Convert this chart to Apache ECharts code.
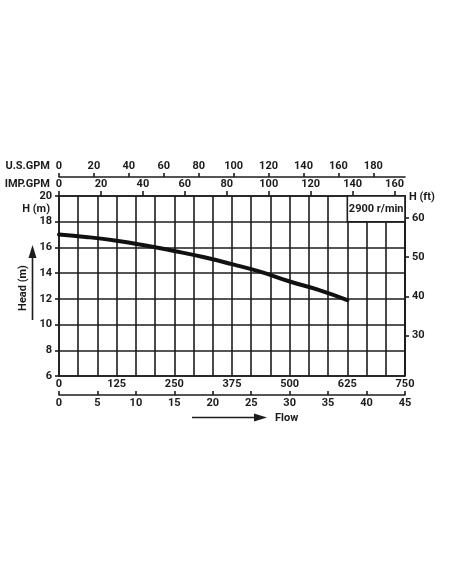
<!DOCTYPE html>
<html>
<head>
<meta charset="utf-8">
<script src="https://cdn.jsdelivr.net/npm/echarts@6/dist/echarts.min.js"></script>
<style>
html,body{margin:0;padding:0;background:#fff;}
#c{width:452px;height:584px;}
</style>
</head>
<body>
<div id="c"></div>
<script>
// ---- data ----
const flowLmin = [0, 62.5, 125, 187.5, 250, 312.5, 375, 437.5, 500, 562.5, 625];
const headM    = [17.0, 16.8, 16.52, 16.15, 15.72, 15.25, 14.7, 14.1, 13.35, 12.7, 11.9];
const lminTicks  = [0, 125, 250, 375, 500, 625, 750];
const m3hTicks   = [0, 5, 10, 15, 20, 25, 30, 35, 40, 45];
const usgpmTicks = [0, 20, 40, 60, 80, 100, 120, 140, 160, 180];
const impTicks   = [0, 20, 40, 60, 80, 100, 120, 140, 160];
const headMTicks = [6, 8, 10, 12, 14, 16, 18, 20];
const headFtTicks = [30, 40, 50, 60];
const speedLabel = '2900 r/min';
const speedBox = { flow: [625, 750], head: [18, 20] };

const FLOW_MAX = 750, H_MIN = 6, H_MAX = 20;

const FONT = 'Roboto, "DejaVu Sans Condensed", sans-serif', FS = 11;
const INK = '#1c1c1c';
const LW = 1.6;
const txt = { fontFamily: FONT, fontSize: FS, fontWeight: 'bold', color: INK };
const gfont = 'bold ' + FS + 'px ' + FONT;

const chart = echarts.init(document.getElementById('c'), null, { renderer: 'canvas' });
const line = { show: true, onZero: false, lineStyle: { color: INK, width: LW } };
const tick = (extra) => Object.assign({ show: true, length: 4, lineStyle: { color: INK, width: LW } }, extra);

chart.setOption({
  backgroundColor: '#fff',
  animation: false,
  grid: { left: 59, right: 47, top: 196, bottom: 208, show: false },
  xAxis: [
    { type: 'value', position: 'bottom', min: 0, max: FLOW_MAX, interval: FLOW_MAX / 18,
      axisLine: line, axisTick: { show: false },
      splitLine: { show: true, lineStyle: { color: INK, width: LW } },
      axisLabel: Object.assign({ customValues: lminTicks, margin: 3 }, txt) },
    { type: 'value', position: 'bottom', offset: 19, min: 0, max: 45,
      axisLine: line, axisTick: tick({ inside: true, customValues: m3hTicks }),
      splitLine: { show: false },
      axisLabel: Object.assign({ customValues: m3hTicks, margin: 3 }, txt) },
    { type: 'value', position: 'top', min: 0, max: FLOW_MAX / 4.54609,
      axisLine: line, axisTick: tick({ length: 5, customValues: impTicks }),
      splitLine: { show: false },
      axisLabel: Object.assign({ customValues: impTicks, margin: 6 }, txt) },
    { type: 'value', position: 'top', offset: 19, min: 0, max: FLOW_MAX / 3.78541,
      axisLine: line, axisTick: tick({ customValues: usgpmTicks }),
      splitLine: { show: false },
      axisLabel: Object.assign({ customValues: usgpmTicks, margin: 5 }, txt) }
  ],
  yAxis: [
    { type: 'value', position: 'left', min: H_MIN, max: H_MAX, interval: 1,
      axisLine: line,
      axisTick: tick({ customValues: headMTicks }),
      splitLine: { show: true, lineStyle: { color: INK, width: LW } },
      axisLabel: Object.assign({ customValues: headMTicks, margin: 7 }, txt) },
    { type: 'value', position: 'right', min: H_MIN / 0.3048, max: H_MAX / 0.3048,
      axisLine: line,
      axisTick: tick({ customValues: headFtTicks }),
      splitLine: { show: false },
      axisLabel: Object.assign({ customValues: headFtTicks, margin: 7 }, txt) }
  ],
  series: [{
    type: 'line', xAxisIndex: 0, yAxisIndex: 0, smooth: true, symbol: 'none',
    data: flowLmin.map((q, i) => [q, headM[i]]),
    lineStyle: { color: '#111', width: 4, cap: 'round' },
    markArea: {
      silent: true,
      itemStyle: { color: '#fff', borderColor: INK, borderWidth: LW },
      label: Object.assign({ show: true, position: 'inside', formatter: speedLabel }, txt),
      data: [[{ xAxis: speedBox.flow[0], yAxis: speedBox.head[1] }, { xAxis: speedBox.flow[1], yAxis: speedBox.head[0] }]]
    }
  }],
  graphic: [
    { type: 'text', x: 50, y: 166, style: { text: 'U.S.GPM', align: 'right', verticalAlign: 'middle', font: gfont, fill: INK } },
    { type: 'text', x: 50, y: 184, style: { text: 'IMP.GPM', align: 'right', verticalAlign: 'middle', font: gfont, fill: INK } },
    { type: 'text', x: 50, y: 209, style: { text: 'H (m)', align: 'right', verticalAlign: 'middle', font: gfont, fill: INK } },
    { type: 'text', x: 409, y: 197, style: { text: 'H (ft)', align: 'left', verticalAlign: 'middle', font: gfont, fill: INK } },
    { type: 'text', x: 23.5, y: 288, rotation: Math.PI / 2, style: { text: 'Head (m)', align: 'center', verticalAlign: 'middle', font: gfont, fill: INK } },
    { type: 'line', shape: { x1: 32.5, y1: 320, x2: 32.5, y2: 255 }, style: { stroke: INK, lineWidth: 1.6 } },
    { type: 'polygon', shape: { points: [[32.5, 245], [28.5, 258], [36.5, 258]] }, style: { fill: INK } },
    { type: 'line', shape: { x1: 192, y1: 417.5, x2: 257, y2: 417.5 }, style: { stroke: INK, lineWidth: 1.6 } },
    { type: 'polygon', shape: { points: [[267, 417.5], [254, 413.5], [254, 421.5]] }, style: { fill: INK } },
    { type: 'text', x: 275, y: 418, style: { text: 'Flow', align: 'left', verticalAlign: 'middle', font: gfont, fill: INK } }
  ]
});
</script>
</body>
</html>
